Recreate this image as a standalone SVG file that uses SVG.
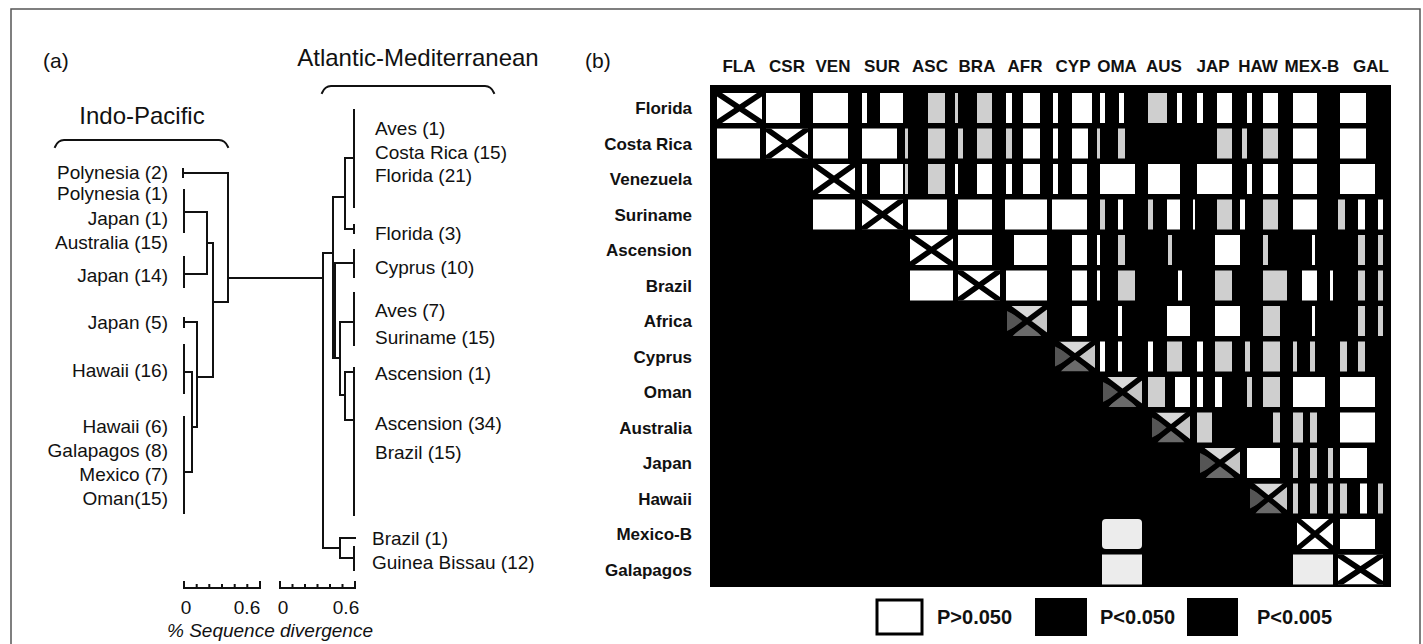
<svg xmlns="http://www.w3.org/2000/svg" xmlns:xlink="http://www.w3.org/1999/xlink" width="1423" height="644" viewBox="0 0 1423 644">
<style>
text{font-family:"Liberation Sans",Arial,sans-serif;fill:#111}
.lab{font-size:19px}
.hd{font-size:24px}
.tag{font-size:21px}
.col{font-size:17px;font-weight:bold;text-anchor:middle}
.row{font-size:17px;font-weight:bold;text-anchor:end}
.leg{font-size:20px;font-weight:bold}
.tree{fill:none;stroke:#111;stroke-width:2;stroke-linecap:square}
.w{fill:#fff}
.s{fill:#cfcfcf}
.e{fill:#ececec}
</style>
<defs>
<symbol id="xw" viewBox="0 0 42 30" preserveAspectRatio="none">
<rect width="42" height="30" fill="#fff"/>
<path d="M0,0 L42,30 M42,0 L0,30" stroke="#000" stroke-width="5.5"/>
</symbol>
<symbol id="xg" viewBox="0 0 42 30" preserveAspectRatio="none">
<rect width="42" height="30" fill="#000"/>
<polygon points="4,0 38,0 21,15" fill="#d8d8d8"/>
<polygon points="42,3 42,27 21,15" fill="#c6c6c6"/>
<polygon points="0,5 0,25 21,15" fill="#555"/>
<polygon points="6,30 36,30 21,15" fill="#6a6a6a"/>
<path d="M0,0 L42,30 M42,0 L0,30" stroke="#000" stroke-width="5.5"/>
</symbol>
</defs>
<rect width="1423" height="644" fill="#fff"/>
<rect x="11" y="9" width="1409" height="660" fill="none" stroke="#555" stroke-width="1.5"/>

<g id="panel-a">
<text class="tag" x="43" y="68">(a)</text>
<text class="hd" x="142" y="124" text-anchor="middle">Indo-Pacific</text>
<text class="hd" x="418" y="66" text-anchor="middle">Atlantic-Mediterranean</text>
<path class="tree" d="M55,147 Q58,140 64,140 L219,140 Q225,140 228,147"/>
<path class="tree" d="M322,93 Q325,86 331,86 L485,86 Q491,86 494,93"/>

<g id="labels-indo" class="lab" text-anchor="end">
<text x="168" y="178.5">Polynesia (2)</text>
<text x="168" y="199.5">Polynesia (1)</text>
<text x="168" y="224.5">Japan (1)</text>
<text x="168" y="248.5">Australia (15)</text>
<text x="168" y="281.5">Japan (14)</text>
<text x="168" y="328.5">Japan (5)</text>
<text x="168" y="376.5">Hawaii (16)</text>
<text x="168" y="432.5">Hawaii (6)</text>
<text x="168" y="456.5">Galapagos (8)</text>
<text x="168" y="480.5">Mexico (7)</text>
<text x="168" y="504.5">Oman(15)</text>
</g>
<g id="labels-atl" class="lab">
<text x="375" y="134.5">Aves (1)</text>
<text x="375" y="158.5">Costa Rica (15)</text>
<text x="375" y="181.5">Florida (21)</text>
<text x="375" y="239.5">Florida (3)</text>
<text x="375" y="273.5">Cyprus (10)</text>
<text x="375" y="316.5">Aves (7)</text>
<text x="375" y="343.5">Suriname (15)</text>
<text x="375" y="379.5">Ascension (1)</text>
<text x="375" y="429.5">Ascension (34)</text>
<text x="375" y="458.5">Brazil (15)</text>
<text x="372" y="544.5">Brazil (1)</text>
<text x="372" y="568.5">Guinea Bissau (12)</text>
</g>

<g id="connectors">
<path class="tree" d="M183,169 V177 M183,173 H228"/>
<path class="tree" d="M184,190 V232 M184,212 H207"/>
<path class="tree" d="M184,257 V287 M184,274 H207"/>
<path class="tree" d="M207,212 V274 M207,243 H213"/>
<path class="tree" d="M184,318 V327 M184,322 H197"/>
<path class="tree" d="M184,345 V393 M184,372 H192"/>
<path class="tree" d="M184,417 V513 M184,472 H192"/>
<path class="tree" d="M192,372 V472 M192,427 H197"/>
<path class="tree" d="M197,322 V427 M197,377 H213"/>
<path class="tree" d="M213,243 V377 M213,302 H228"/>
<path class="tree" d="M228,173 V302 M228,278 H323"/>
<path class="tree" d="M323,253 V548 M323,253 H333 M323,548 H340"/>
<path class="tree" d="M333,197 V358 M335,263 V358 M333,197 H345 M333,263 H354 M333,358 H340"/>
<path class="tree" d="M345,158 V229 M345,158 H354 M345,229 H354"/>
<path class="tree" d="M354,110 V207 M354,225 V233 M354,250 V277"/>
<path class="tree" d="M340,322 V395 M340,322 H354 M340,395 H345"/>
<path class="tree" d="M354,293 V345"/>
<path class="tree" d="M345,372 V420 M345,372 H354 M345,420 H354"/>
<path class="tree" d="M354,368 V515"/>
<path class="tree" d="M340,538 V558 M340,538 H355 M340,558 H354 M354,547 V570"/>
</g>

<g id="scale">
<path class="tree" d="M184,582 V588 H260 V582 M196.7,585 V588 M209.3,585 V588 M222,585 V588 M234.7,585 V588 M247.3,585 V588"/>
<path class="tree" d="M280,582 V588 H355 V582 M292.5,585 V588 M305,585 V588 M317.5,585 V588 M330,585 V588 M342.5,585 V588"/>
<g class="lab" text-anchor="middle">
<text x="186" y="614">0</text>
<text x="247" y="614">0.6</text>
<text x="283" y="614">0</text>
<text x="346" y="614">0.6</text>
</g>
<text class="lab" x="167" y="637" font-style="italic">% Sequence divergence</text>
</g>
</g>

<g id="panel-b">
<text class="tag" x="585" y="68">(b)</text>
<g id="col-labels" class="col">
<text x="739" y="72">FLA</text>
<text x="787" y="72">CSR</text>
<text x="833" y="72">VEN</text>
<text x="882" y="72">SUR</text>
<text x="930" y="72">ASC</text>
<text x="977" y="72">BRA</text>
<text x="1025" y="72">AFR</text>
<text x="1073" y="72">CYP</text>
<text x="1117" y="72">OMA</text>
<text x="1164" y="72">AUS</text>
<text x="1213" y="72">JAP</text>
<text x="1258" y="72">HAW</text>
<text x="1312" y="72">MEX-B</text>
<text x="1371" y="72">GAL</text>
</g>
<g id="row-labels" class="row">
<text x="692" y="114">Florida</text>
<text x="692" y="149.5">Costa Rica</text>
<text x="692" y="185">Venezuela</text>
<text x="692" y="220.5">Suriname</text>
<text x="692" y="256">Ascension</text>
<text x="692" y="291.5">Brazil</text>
<text x="692" y="327">Africa</text>
<text x="692" y="362.5">Cyprus</text>
<text x="692" y="398">Oman</text>
<text x="692" y="433.5">Australia</text>
<text x="692" y="469">Japan</text>
<text x="692" y="504.5">Hawaii</text>
<text x="692" y="540">Mexico-B</text>
<text x="692" y="575.5">Galapagos</text>
</g>

<rect id="matrix" x="710" y="85" width="681" height="502" fill="#000"/>

<g id="row-florida" transform="translate(0,93)">
<use xlink:href="#xw" x="717" width="45" height="30"/>
<rect class="w" x="766" width="34" height="30"/><rect class="w" x="813" width="35" height="30"/>
<rect class="w" x="862" width="5" height="30"/><rect class="w" x="880" width="23" height="30"/>
<rect class="s" x="928" width="17" height="30"/><rect class="s" x="955" width="3" height="30"/>
<rect class="s" x="977" width="15" height="30"/><rect class="w" x="1006" width="6" height="30"/>
<rect class="w" x="1023" width="17" height="30"/><rect class="w" x="1053" width="5" height="30"/>
<rect class="w" x="1072" width="20" height="30"/><rect class="w" x="1100" width="5" height="30"/>
<rect class="w" x="1119" width="5" height="30"/><rect class="s" x="1148" width="19" height="30"/>
<rect class="w" x="1177" width="5" height="30"/><rect class="w" x="1197" width="6" height="30"/>
<rect class="w" x="1217" width="15" height="30"/><rect class="w" x="1247" width="5" height="30"/>
<rect class="w" x="1263" width="15" height="30"/><rect class="w" x="1293" width="24" height="30"/>
<rect class="w" x="1340" width="26" height="30"/>
</g>
<g id="row-costa-rica" transform="translate(0,128.5)">
<rect class="w" x="717" width="43" height="30"/>
<use xlink:href="#xw" x="766" width="42" height="30"/>
<rect class="w" x="813" width="35" height="30"/><rect class="w" x="862" width="35" height="30"/>
<rect class="s" x="905" width="3" height="30"/><rect class="s" x="928" width="17" height="30"/>
<rect class="s" x="958" width="5" height="30"/><rect class="s" x="977" width="15" height="30"/>
<rect class="s" x="1006" width="6" height="30"/><rect class="w" x="1023" width="17" height="30"/>
<rect class="w" x="1053" width="5" height="30"/><rect class="w" x="1072" width="16" height="30"/>
<rect class="s" x="1097" width="3" height="30"/><rect class="s" x="1118" width="7" height="30"/>
<rect class="s" x="1217" width="15" height="30"/><rect class="s" x="1242" width="5" height="30"/>
<rect class="s" x="1263" width="15" height="30"/><rect class="w" x="1293" width="24" height="30"/>
<rect class="w" x="1340" width="26" height="30"/>
</g>
<g id="row-venezuela" transform="translate(0,164)">
<use xlink:href="#xw" x="813" width="42" height="30"/>
<rect class="w" x="862" width="5" height="30"/><rect class="w" x="880" width="23" height="30"/>
<rect class="s" x="905" width="3" height="30"/><rect class="s" x="928" width="17" height="30"/>
<rect class="w" x="955" width="3" height="30"/><rect class="w" x="977" width="15" height="30"/>
<rect class="w" x="1006" width="6" height="30"/><rect class="w" x="1023" width="17" height="30"/>
<rect class="w" x="1053" width="5" height="30"/><rect class="w" x="1072" width="15" height="30"/>
<rect class="w" x="1100" width="35" height="30"/><rect class="w" x="1148" width="32" height="30"/>
<rect class="w" x="1197" width="35" height="30"/><rect class="w" x="1247" width="5" height="30"/>
<rect class="w" x="1263" width="15" height="30"/><rect class="w" x="1293" width="24" height="30"/>
<rect class="w" x="1340" width="35" height="30"/>
</g>
<g id="row-suriname" transform="translate(0,199.5)">
<rect class="w" x="813" width="42" height="30"/>
<use xlink:href="#xw" x="862" width="41" height="30"/>
<rect class="w" x="908" width="39" height="30"/><rect class="w" x="958" width="34" height="30"/>
<rect class="w" x="1005" width="42" height="30"/><rect class="w" x="1052" width="35" height="30"/>
<rect class="s" x="1100" width="5" height="30"/><rect class="w" x="1118" width="5" height="30"/>
<rect class="s" x="1148" width="5" height="30"/><rect class="w" x="1167" width="13" height="30"/>
<rect class="w" x="1193" width="2" height="30"/><rect class="s" x="1217" width="15" height="30"/>
<rect class="w" x="1240" width="5" height="30"/><rect class="s" x="1263" width="15" height="30"/>
<rect class="w" x="1293" width="24" height="30"/><rect class="s" x="1338" width="7" height="30"/>
<rect class="w" x="1358" width="7" height="30"/><rect class="w" x="1378" width="5" height="30"/>
</g>
<g id="row-ascension" transform="translate(0,235)">
<use xlink:href="#xw" x="910" width="43" height="30"/>
<rect class="w" x="958" width="34" height="30"/><rect class="w" x="1014" width="33" height="30"/>
<rect class="w" x="1072" width="15" height="30"/><rect class="w" x="1097" width="3" height="30"/>
<rect class="s" x="1118" width="7" height="30"/><rect class="s" x="1168" width="4" height="30"/>
<rect class="w" x="1215" width="25" height="30"/><rect class="s" x="1263" width="5" height="30"/>
<rect class="w" x="1312" width="3" height="30"/><rect class="s" x="1358" width="7" height="30"/>
<rect class="s" x="1378" width="5" height="30"/>
</g>
<g id="row-brazil" transform="translate(0,270.5)">
<rect class="w" x="910" width="43" height="30"/>
<use xlink:href="#xw" x="958" width="42" height="30"/>
<rect class="w" x="1006" width="41" height="30"/><rect class="w" x="1072" width="15" height="30"/>
<rect class="w" x="1097" width="3" height="30"/><rect class="s" x="1118" width="17" height="30"/>
<rect class="w" x="1178" width="4" height="30"/><rect class="s" x="1215" width="17" height="30"/>
<rect class="s" x="1263" width="24" height="30"/><rect class="w" x="1302" width="15" height="30"/>
<rect class="w" x="1330" width="3" height="30"/><rect class="s" x="1358" width="7" height="30"/>
<rect class="s" x="1378" width="5" height="30"/>
</g>
<g id="row-africa" transform="translate(0,306)">
<use xlink:href="#xg" x="1007" width="40" height="30"/>
<rect class="w" x="1072" width="15" height="30"/><rect class="w" x="1118" width="4" height="30"/>
<rect class="w" x="1167" width="23" height="30"/><rect class="w" x="1215" width="25" height="30"/>
<rect class="s" x="1263" width="17" height="30"/><rect class="w" x="1312" width="3" height="30"/>
<rect class="s" x="1358" width="7" height="30"/><rect class="s" x="1378" width="5" height="30"/>
</g>
<g id="row-cyprus" transform="translate(0,341.5)">
<use xlink:href="#xg" x="1055" width="40" height="30"/>
<rect class="w" x="1100" width="5" height="30"/><rect class="w" x="1118" width="4" height="30"/>
<rect class="w" x="1148" width="5" height="30"/><rect class="s" x="1167" width="15" height="30"/>
<rect class="w" x="1197" width="6" height="30"/><rect class="s" x="1215" width="17" height="30"/>
<rect class="s" x="1245" width="5" height="30"/><rect class="s" x="1263" width="17" height="30"/>
<rect class="s" x="1293" width="4" height="30"/><rect class="s" x="1310" width="5" height="30"/>
<rect class="s" x="1340" width="7" height="30"/><rect class="s" x="1358" width="7" height="30"/>
</g>
<g id="row-oman" transform="translate(0,377)">
<use xlink:href="#xg" x="1103" width="39" height="30"/>
<rect class="s" x="1148" width="17" height="30"/><rect class="w" x="1175" width="15" height="30"/>
<rect class="w" x="1197" width="6" height="30"/><rect class="w" x="1215" width="7" height="30"/>
<rect class="s" x="1247" width="5" height="30"/><rect class="s" x="1263" width="17" height="30"/>
<rect class="w" x="1293" width="32" height="30"/><rect class="w" x="1340" width="35" height="30"/>
</g>
<g id="row-australia" transform="translate(0,412.5)">
<use xlink:href="#xg" x="1152" width="38" height="30"/>
<rect class="s" x="1197" width="15" height="30"/><rect class="s" x="1273" width="7" height="30"/>
<rect class="s" x="1293" width="10" height="30"/><rect class="s" x="1310" width="7" height="30"/>
<rect class="w" x="1340" width="35" height="30"/>
</g>
<g id="row-japan" transform="translate(0,448)">
<use xlink:href="#xg" x="1200" width="40" height="30"/>
<rect class="w" x="1247" width="33" height="30"/><rect class="s" x="1293" width="5" height="30"/>
<rect class="s" x="1310" width="7" height="30"/><rect class="s" x="1328" width="5" height="30"/>
<rect class="w" x="1340" width="27" height="30"/>
</g>
<g id="row-hawaii" transform="translate(0,483.5)">
<use xlink:href="#xg" x="1250" width="37" height="30"/>
<rect class="s" x="1293" width="5" height="30"/><rect class="s" x="1310" width="7" height="30"/>
<rect class="s" x="1328" width="5" height="30"/><rect class="s" x="1340" width="7" height="30"/>
<rect class="w" x="1360" width="7" height="30"/><rect class="s" x="1378" width="5" height="30"/>
</g>
<g id="row-mexico-b" transform="translate(0,519)">
<rect class="e" x="1102" width="40" height="30" rx="4"/>
<use xlink:href="#xw" x="1297" width="36" height="30"/>
<rect class="w" x="1340" width="35" height="30"/>
</g>
<g id="row-galapagos" transform="translate(0,554.5)">
<rect class="e" x="1102" width="40" height="30"/>
<rect class="e" x="1293" width="40" height="30"/>
<use xlink:href="#xw" x="1338" width="45" height="30"/>
</g>

<g id="legend">
<rect x="877" y="600" width="45" height="34" fill="#fff" stroke="#000" stroke-width="3"/>
<text class="leg" x="937" y="624">P&gt;0.050</text>
<rect x="1035" y="598" width="52" height="38" fill="#000"/>
<text class="leg" x="1100" y="624">P&lt;0.050</text>
<rect x="1187" y="598" width="51" height="38" fill="#000"/>
<text class="leg" x="1257" y="624">P&lt;0.005</text>
</g>
</g>
</svg>
